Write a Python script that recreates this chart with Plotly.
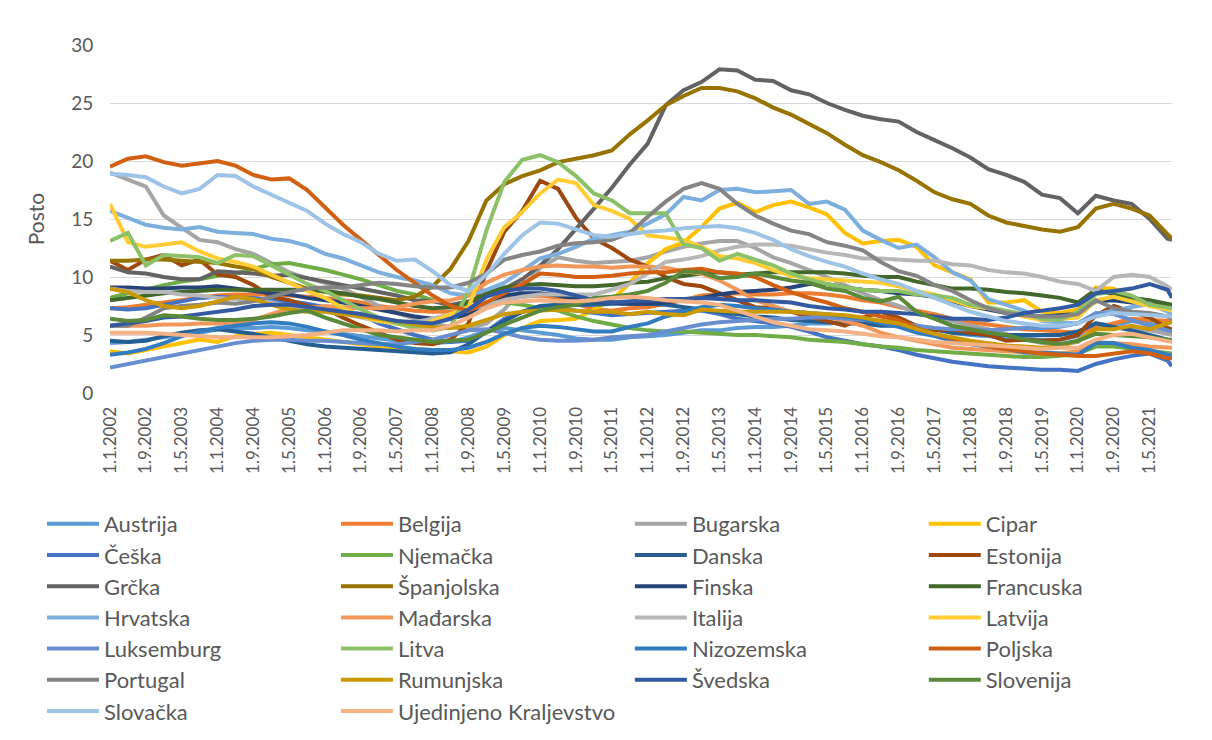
import plotly.graph_objects as go

# ---------------- data ----------------
dates = [
    "1.1.2002", "1.5.2002", "1.9.2002", "1.1.2003", "1.5.2003", "1.9.2003",
    "1.1.2004", "1.5.2004", "1.9.2004", "1.1.2005", "1.5.2005", "1.9.2005",
    "1.1.2006", "1.5.2006", "1.9.2006", "1.1.2007", "1.5.2007", "1.9.2007",
    "1.1.2008", "1.5.2008", "1.9.2008", "1.1.2009", "1.5.2009", "1.9.2009",
    "1.1.2010", "1.5.2010", "1.9.2010", "1.1.2011", "1.5.2011", "1.9.2011",
    "1.1.2012", "1.5.2012", "1.9.2012", "1.1.2013", "1.5.2013", "1.9.2013",
    "1.1.2014", "1.5.2014", "1.9.2014", "1.1.2015", "1.5.2015", "1.9.2015",
    "1.1.2016", "1.5.2016", "1.9.2016", "1.1.2017", "1.5.2017", "1.9.2017",
    "1.1.2018", "1.5.2018", "1.9.2018", "1.1.2019", "1.5.2019", "1.9.2019",
    "1.1.2020", "1.5.2020", "1.9.2020", "1.1.2021", "1.5.2021", "1.9.2021",
    "1.10.2021",
]

tick_labels = [
    "1.1.2002", "1.9.2002", "1.5.2003", "1.1.2004", "1.9.2004", "1.5.2005",
    "1.1.2006", "1.9.2006", "1.5.2007", "1.1.2008", "1.9.2008", "1.5.2009",
    "1.1.2010", "1.9.2010", "1.5.2011", "1.1.2012", "1.9.2012", "1.5.2013",
    "1.1.2014", "1.9.2014", "1.5.2015", "1.1.2016", "1.9.2016", "1.5.2017",
    "1.1.2018", "1.9.2018", "1.5.2019", "1.1.2020", "1.9.2020", "1.5.2021",
]

austrija = [4.3, 4.4, 4.6, 4.8, 5.0, 5.2, 5.5, 5.6, 5.6, 5.7,
            5.6, 5.4, 5.3, 5.1, 4.9, 4.7, 4.5, 4.4, 4.3, 4.4,
            4.8, 5.4, 5.6, 5.4, 5.2, 5.0, 4.7, 4.6, 4.6, 4.8,
            4.9, 5.0, 5.2, 5.4, 5.4, 5.6, 5.7, 5.7, 5.8, 6.0,
            6.0, 6.1, 6.1, 6.2, 6.0, 5.7, 5.5, 5.2, 5.0, 4.9,
            4.8, 4.7, 4.6, 4.6, 4.9, 6.0, 5.8, 6.2, 6.0, 5.6,
            5.3]
belgija = [7.3, 7.4, 7.6, 7.8, 8.0, 8.2, 8.4, 8.5, 8.5, 8.5,
           8.4, 8.3, 8.2, 8.0, 7.8, 7.5, 7.3, 7.1, 7.0, 7.0,
           7.3, 7.8, 8.1, 8.3, 8.4, 8.2, 7.7, 7.2, 7.1, 7.3,
           7.4, 7.7, 8.0, 8.4, 8.5, 8.6, 8.5, 8.5, 8.6, 8.6,
           8.5, 8.3, 8.0, 7.8, 7.4, 7.1, 6.8, 6.4, 6.1, 5.9,
           5.7, 5.5, 5.4, 5.3, 5.2, 5.6, 6.0, 6.4, 6.3, 6.2,
           6.2]
bugarska = [19.0, 18.4, 17.8, 15.3, 14.2, 13.2, 13.0, 12.4, 12.0, 11.2,
            10.4, 9.9, 9.5, 9.0, 8.3, 7.5, 6.9, 6.4, 6.0, 5.7,
            5.5, 6.0, 7.2, 9.0, 10.8, 11.7, 11.4, 11.2, 11.3, 11.4,
            11.7, 12.2, 12.6, 12.9, 13.1, 13.1, 12.5, 11.7, 11.2, 10.6,
            10.0, 9.3, 8.6, 8.0, 7.5, 6.9, 6.5, 6.2, 5.8, 5.5,
            5.1, 4.6, 4.3, 4.2, 4.4, 5.5, 5.7, 5.6, 5.4, 5.1,
            5.0]
cipar = [3.6, 3.4, 3.7, 4.0, 4.3, 4.6, 4.4, 4.9, 5.1, 5.2,
         5.0, 4.8, 4.6, 4.4, 4.2, 4.0, 3.9, 3.8, 3.7, 3.6,
         3.5, 4.0, 5.0, 5.6, 6.2, 6.3, 6.4, 7.2, 8.0, 9.5,
         11.2, 12.4, 13.0, 14.3, 15.9, 16.4, 15.6, 16.2, 16.5, 16.0,
         15.4, 13.8, 12.9, 13.1, 13.2, 12.6, 11.0, 10.4, 9.8, 7.8,
         7.8, 8.0, 7.0, 6.9, 7.2, 9.1, 9.0, 8.3, 7.6, 7.4,
         7.4]
ceska = [7.3, 7.2, 7.3, 7.6, 7.9, 8.2, 8.3, 8.2, 8.2, 8.0,
         7.9, 7.7, 7.4, 7.1, 6.8, 6.0, 5.5, 5.0, 4.6, 4.4,
         4.5, 5.3, 6.4, 7.0, 7.4, 7.3, 7.1, 6.9, 6.7, 6.8,
         6.9, 7.0, 7.1, 7.1, 6.8, 6.4, 6.2, 6.0, 5.7, 5.3,
         4.8, 4.5, 4.2, 4.0, 3.7, 3.3, 3.0, 2.7, 2.5, 2.3,
         2.2, 2.1, 2.0, 2.0, 1.9, 2.5, 2.9, 3.2, 3.4, 2.8,
         2.3]
njemacka = [8.2, 8.6, 8.9, 9.3, 9.6, 9.8, 10.1, 10.3, 10.7, 11.1,
            11.2, 10.9, 10.6, 10.2, 9.8, 9.3, 8.8, 8.5, 8.0, 7.6,
            7.4, 7.5, 7.8, 7.6, 7.3, 7.1, 6.6, 6.2, 5.9, 5.6,
            5.4, 5.3, 5.3, 5.2, 5.1, 5.0, 5.0, 4.9, 4.8, 4.6,
            4.5, 4.4, 4.2, 4.0, 3.9, 3.7, 3.6, 3.5, 3.4, 3.3,
            3.2, 3.1, 3.1, 3.2, 3.4, 4.0, 4.0, 3.8, 3.6, 3.4,
            3.4]
danska = [4.5, 4.4, 4.5, 4.9, 5.2, 5.4, 5.5, 5.3, 5.1, 4.8,
          4.5, 4.2, 4.0, 3.9, 3.8, 3.7, 3.6, 3.5, 3.4, 3.5,
          4.2, 5.3, 6.2, 7.0, 7.5, 7.6, 7.6, 7.6, 7.7, 7.7,
          7.7, 7.6, 7.4, 7.2, 7.0, 6.8, 6.6, 6.5, 6.3, 6.2,
          6.1, 6.0, 6.0, 5.8, 5.8, 5.7, 5.5, 5.2, 5.1, 5.0,
          5.0, 5.0, 5.0, 5.0, 5.3, 6.0, 5.7, 5.4, 5.0, 4.6,
          4.5]
estonija = [11.4, 10.6, 11.5, 11.9, 11.0, 11.5, 10.2, 10.0, 9.3, 8.3,
            8.0, 7.5, 7.3, 6.5, 5.8, 5.2, 4.6, 4.3, 4.2, 4.6,
            6.0, 10.5, 13.9, 15.7, 18.3, 17.6, 15.1, 13.3, 12.5, 11.5,
            10.9, 10.0, 9.4, 9.2, 8.6, 8.0, 7.4, 7.3, 7.0, 6.6,
            6.2, 5.8, 6.5, 7.0, 6.5, 5.8, 5.4, 5.5, 5.2, 5.0,
            4.5, 4.6, 4.5, 4.6, 5.0, 6.7, 7.5, 7.0, 6.5, 5.6,
            5.5]
grcka = [10.9, 10.4, 10.3, 10.0, 9.8, 9.8, 10.5, 10.4, 10.3, 10.1,
         10.2, 9.9, 9.6, 9.3, 9.0, 8.7, 8.4, 8.0, 7.9, 7.6,
         7.9, 8.5, 9.0, 9.8, 11.0, 12.4, 14.1, 15.9, 17.7, 19.7,
         21.5, 24.8, 26.1, 26.8, 27.9, 27.8, 27.0, 26.9, 26.1, 25.75,
         25.0, 24.4, 23.9, 23.6, 23.4, 22.5, 21.8, 21.1, 20.3, 19.3,
         18.8, 18.2, 17.1, 16.8, 15.5, 17.0, 16.6, 16.3, 15.0, 13.3,
         13.2]
spanjolska = [11.4, 11.4, 11.5, 11.5, 11.4, 11.3, 11.2, 10.9, 10.7, 10.0,
              9.5, 9.0, 8.7, 8.5, 8.4, 8.2, 8.0, 8.3, 9.2, 10.7,
              13.1, 16.6, 18.0, 18.7, 19.2, 19.9, 20.2, 20.5, 20.9, 22.3,
              23.5, 24.8, 25.6, 26.3, 26.3, 26.0, 25.4, 24.6, 24.0, 23.2,
              22.4, 21.4, 20.5, 19.9, 19.2, 18.3, 17.3, 16.7, 16.3, 15.3,
              14.7, 14.4, 14.1, 13.9, 14.3, 15.9, 16.3, 15.9, 15.3, 13.7,
              13.3]
finska = [9.1, 9.1, 9.0, 9.0, 9.1, 9.1, 9.2, 9.0, 8.8, 8.6,
          8.5, 8.2, 8.0, 7.8, 7.5, 7.2, 6.9, 6.6, 6.4, 6.4,
          6.8, 7.8, 8.4, 8.6, 8.6, 8.4, 8.1, 7.9, 7.8, 7.7,
          7.7, 7.8, 8.0, 8.2, 8.5, 8.7, 8.8, 8.9, 9.1, 9.4,
          9.4, 9.1, 8.9, 8.8, 8.6, 8.5, 8.3, 7.9, 7.5, 7.2,
          6.9, 6.7, 6.6, 6.7, 6.8, 7.9, 8.0, 7.8, 7.7, 7.6,
          7.5]
francuska = [8.0, 8.2, 8.4, 8.6, 8.7, 8.8, 8.9, 8.9, 8.9, 8.9,
             8.9, 8.9, 8.8, 8.6, 8.3, 8.1, 7.8, 7.5, 7.3, 7.4,
             7.8, 8.6, 9.1, 9.3, 9.4, 9.3, 9.2, 9.2, 9.3, 9.5,
             9.6, 9.9, 10.1, 10.3, 10.4, 10.2, 10.3, 10.4, 10.4, 10.4,
             10.4, 10.3, 10.1, 10.0, 10.0, 9.6, 9.3, 9.0, 9.0, 8.9,
             8.7, 8.6, 8.4, 8.2, 7.8, 8.9, 8.5, 8.2, 8.0, 7.7,
             7.6]
hrvatska = [15.7, 15.1, 14.5, 14.25, 14.1, 14.3, 13.9, 13.8, 13.7, 13.3,
            13.1, 12.7, 12.0, 11.6, 11.0, 10.4, 10.0, 9.7, 9.3, 8.6,
            8.4, 8.9, 9.5, 10.5, 11.6, 12.0, 12.6, 13.3, 13.6, 13.9,
            14.6, 15.4, 16.9, 16.6, 17.5, 17.6, 17.3, 17.4, 17.5, 16.3,
            16.5, 15.8, 14.0, 13.2, 12.5, 12.8, 11.7, 10.4, 9.7, 8.1,
            7.6, 7.1, 6.2, 6.1, 6.0, 6.8, 7.1, 7.4, 7.7, 7.0,
            6.8]
madarska = [5.8, 5.8, 5.8, 5.9, 5.9, 6.0, 6.0, 6.1, 6.3, 6.8,
            7.3, 7.3, 7.5, 7.4, 7.3, 7.3, 7.4, 7.7, 7.9, 8.0,
            8.4, 9.5, 10.2, 10.6, 10.9, 11.0, 10.9, 10.9, 10.8, 10.9,
            10.9, 10.8, 10.5, 10.3, 9.7, 8.9, 8.0, 7.5, 7.0, 6.9,
            6.6, 6.2, 5.8, 5.2, 4.8, 4.5, 4.2, 3.9, 3.8, 3.7,
            3.6, 3.5, 3.4, 3.4, 3.6, 4.4, 4.3, 4.2, 4.0, 3.9,
            3.9]
italija = [9.0, 8.8, 8.7, 8.7, 8.5, 8.4, 8.2, 8.1, 8.0, 7.8,
           7.5, 7.2, 7.0, 6.8, 6.5, 6.2, 6.0, 6.1, 6.4, 6.8,
           7.2, 7.6, 8.0, 8.3, 8.5, 8.5, 8.5, 8.5, 8.9, 9.4,
           10.3, 11.3, 11.5, 11.8, 12.3, 12.6, 12.8, 12.8, 12.7, 12.4,
           12.1, 11.9, 11.6, 11.6, 11.5, 11.4, 11.4, 11.1, 11.0, 10.6,
           10.4, 10.3, 10.0, 9.6, 9.4, 8.8, 10.0, 10.2, 10.0, 9.2,
           8.9]
latvija = [16.3, 13.0, 12.6, 12.8, 13.0, 12.2, 11.6, 11.3, 10.9, 10.2,
           9.5, 8.8, 8.2, 7.3, 6.6, 6.2, 6.0, 5.8, 6.2, 6.8,
           7.4, 11.5, 14.3, 15.6, 17.2, 18.4, 18.1, 16.2, 15.7, 15.0,
           13.6, 13.4, 13.2, 12.6, 11.8, 11.6, 11.2, 10.6, 10.1, 9.9,
           9.8, 9.7, 9.6, 9.5, 9.2, 8.8, 8.5, 8.0, 7.5, 7.3,
           7.0, 6.6, 6.3, 6.4, 6.5, 8.0, 8.3, 7.9, 7.5, 7.2,
           7.1]
luksemburg = [2.2, 2.5, 2.8, 3.1, 3.4, 3.7, 4.0, 4.3, 4.5, 4.6,
              4.6, 4.5, 4.5, 4.4, 4.3, 4.2, 4.2, 4.4, 4.6, 5.0,
              5.4, 5.5, 5.2, 4.8, 4.6, 4.5, 4.5, 4.6, 4.8, 4.9,
              5.0, 5.3, 5.6, 5.9, 6.1, 6.2, 6.3, 6.4, 6.4, 6.5,
              6.5, 6.4, 6.3, 6.2, 6.0, 5.8, 5.6, 5.5, 5.5, 5.4,
              5.5, 5.6, 5.6, 5.7, 6.0, 6.9, 6.8, 6.3, 5.8, 5.4,
              5.3]
litva = [13.1, 13.8, 11.0, 11.9, 11.8, 11.7, 11.2, 11.9, 11.8, 11.0,
         10.2, 9.4, 8.8, 8.0, 7.2, 6.5, 6.0, 5.6, 5.4, 5.7,
         8.8, 14.0, 18.2, 20.1, 20.5, 19.9, 18.7, 17.2, 16.6, 15.5,
         15.5, 15.5, 12.8, 12.5, 11.4, 12.0, 11.5, 11.0, 10.3, 9.8,
         9.4, 9.1, 8.9, 8.8, 8.8, 8.5, 8.4, 8.2, 7.6, 7.4,
         7.1, 6.8, 6.4, 6.3, 7.0, 8.5, 8.8, 8.4, 7.6, 7.3,
         7.3]
nizozemska = [3.3, 3.5, 3.8, 4.3, 4.9, 5.3, 5.6, 5.8, 6.0, 6.1,
              6.0, 5.7, 5.3, 5.0, 4.6, 4.3, 4.0, 3.8, 3.7, 3.7,
              3.9, 4.4, 5.1, 5.6, 5.8, 5.7, 5.5, 5.3, 5.3, 5.7,
              6.0, 6.6, 7.0, 7.4, 7.6, 7.5, 7.3, 7.2, 7.0, 6.9,
              6.8, 6.6, 6.4, 6.0, 5.7, 5.2, 4.9, 4.5, 4.2, 4.0,
              3.8, 3.5, 3.5, 3.4, 3.3, 4.3, 4.3, 3.9, 3.7, 3.3,
              3.2]
poljska = [19.5, 20.2, 20.4, 19.9, 19.6, 19.8, 20.0, 19.6, 18.8, 18.4,
           18.5, 17.5, 16.0, 14.5, 13.2, 11.9, 10.6, 9.5, 8.4, 7.5,
           7.1, 7.8, 8.6, 9.4, 10.3, 10.2, 10.0, 10.0, 10.1, 10.3,
           10.4, 10.4, 10.6, 10.7, 10.4, 10.3, 10.0, 9.3, 8.7, 8.2,
           7.8, 7.3, 7.0, 6.6, 6.3, 5.6, 5.1, 4.7, 4.4, 4.0,
           3.8, 3.6, 3.4, 3.3, 3.2, 3.2, 3.4, 3.6, 3.4, 3.0,
           3.0]
portugal = [5.8, 5.8, 6.5, 7.3, 7.5, 7.6, 7.8, 7.7, 7.9, 8.3,
            8.7, 9.0, 9.1, 9.1, 9.3, 9.5, 9.4, 9.2, 9.1, 9.1,
            9.5, 10.3, 11.5, 11.9, 12.2, 12.7, 12.9, 13.0, 13.2, 13.8,
            15.2, 16.5, 17.6, 18.1, 17.6, 16.3, 15.3, 14.6, 14.0, 13.7,
            13.0, 12.7, 12.3, 11.3, 10.5, 10.1, 9.3, 8.8, 8.0, 7.3,
            6.9, 6.7, 6.6, 6.6, 6.8, 8.0, 7.3, 7.0, 6.9, 6.6,
            6.4]
rumunjska = [9.0, 8.7, 8.0, 7.5, 7.3, 7.5, 7.9, 8.3, 8.1, 7.6,
             7.2, 7.0, 7.0, 6.8, 6.6, 6.4, 6.2, 5.9, 5.7, 5.6,
             5.8, 6.3, 6.8, 7.0, 7.1, 7.2, 7.1, 7.0, 7.0, 6.8,
             7.0, 6.8, 6.7, 7.2, 7.1, 7.0, 7.0, 7.0, 7.0, 6.9,
             6.8, 6.7, 6.5, 6.2, 6.0, 5.5, 5.1, 4.8, 4.5, 4.3,
             4.1, 4.0, 3.9, 4.0, 4.5, 5.5, 5.5, 5.8, 5.5, 6.0,
             6.1]
svedska = [5.8, 6.0, 6.2, 6.5, 6.6, 6.8, 7.0, 7.2, 7.5, 7.6,
           7.6, 7.4, 7.2, 7.0, 6.8, 6.5, 6.2, 6.1, 6.0, 6.4,
           7.2, 8.3, 8.8, 9.0, 9.0, 8.8, 8.4, 8.0, 7.8, 7.9,
           8.0, 8.1, 8.1, 8.2, 8.1, 8.0, 8.0, 7.9, 7.8, 7.5,
           7.3, 7.2, 7.0, 7.0, 6.9, 6.8, 6.6, 6.4, 6.4, 6.3,
           6.5, 6.9, 7.1, 7.3, 7.6, 8.6, 8.8, 9.0, 9.4, 8.9,
           8.2]
slovenija = [6.4, 6.2, 6.3, 6.7, 6.6, 6.4, 6.3, 6.3, 6.4, 6.6,
             6.9, 7.1, 6.5, 6.0, 5.5, 5.0, 4.8, 4.6, 4.4, 4.5,
             4.6, 5.2, 5.9, 6.5, 7.1, 7.4, 7.6, 8.2, 8.3, 8.5,
             8.8, 9.5, 10.5, 10.4, 9.9, 10.0, 10.3, 10.0, 9.7, 9.5,
             9.0, 8.8, 8.2, 7.9, 8.3, 7.0, 6.4, 5.8, 5.5, 5.2,
             5.0, 4.6, 4.4, 4.2, 4.5, 5.1, 5.0, 4.9, 4.8, 4.6,
             4.6]
slovacka = [18.9, 18.8, 18.6, 17.8, 17.2, 17.6, 18.8, 18.7, 17.8, 17.1,
            16.4, 15.7, 14.6, 13.7, 13.0, 12.0, 11.4, 11.5, 10.5, 9.3,
            8.8, 10.2, 12.0, 13.6, 14.7, 14.6, 14.1, 13.6, 13.5, 13.7,
            13.9, 14.0, 14.2, 14.3, 14.4, 14.2, 13.8, 13.2, 12.4, 11.8,
            11.3, 10.9, 10.3, 9.8, 9.4, 8.8, 8.2, 7.6, 7.0, 6.6,
            6.2, 6.0, 5.8, 5.8, 6.0, 6.6, 6.9, 6.8, 6.7, 6.6,
            6.6]
uk = [5.2, 5.2, 5.2, 5.1, 5.0, 4.9, 4.8, 4.8, 4.8, 4.8,
      4.9, 5.0, 5.2, 5.4, 5.4, 5.4, 5.3, 5.4, 5.4, 5.8,
      6.5, 7.3, 7.8, 7.9, 8.0, 7.9, 7.9, 8.0, 8.2, 8.3,
      8.2, 8.0, 7.9, 7.8, 7.6, 7.1, 6.6, 6.1, 5.8, 5.5,
      5.4, 5.3, 5.1, 4.9, 4.8, 4.6, 4.4, 4.3, 4.2, 4.1,
      4.0, 3.9, 3.8, 3.9, 3.9, 4.6, 5.0, 5.1, 4.8, 4.5,
      4.4]

names = ["Austrija", "Belgija", "Bugarska", "Cipar",
         "Češka", "Njemačka", "Danska", "Estonija",
         "Grčka", "Španjolska", "Finska", "Francuska",
         "Hrvatska", "Mađarska", "Italija", "Latvija",
         "Luksemburg", "Litva", "Nizozemska", "Poljska",
         "Portugal", "Rumunjska", "Švedska", "Slovenija",
         "Slovačka", "Ujedinjeno Kraljevstvo"]

values = [austrija, belgija, bugarska, cipar,
          ceska, njemacka, danska, estonija,
          grcka, spanjolska, finska, francuska,
          hrvatska, madarska, italija, latvija,
          luksemburg, litva, nizozemska, poljska,
          portugal, rumunjska, svedska, slovenija,
          slovacka, uk]

colors = ["#5B9BD5", "#ED7D31", "#A5A5A5", "#FFC000",
          "#4472C4", "#70AD47", "#255E91", "#9E480E",
          "#636363", "#997300", "#264478", "#43682B",
          "#7CAFDD", "#F1975A", "#B7B7B7", "#FFCD33",
          "#698ED0", "#8CC168", "#327DC2", "#D26012",
          "#848484", "#CC9A00", "#335AA1", "#5A8A39",
          "#9DC3E6", "#F4B183"]

# ---------------- helpers ----------------
def month_index(s):
    d, m, y = s.split(".")
    return (int(y) - 2002) * 12 + int(m) - 1

x = [month_index(d) for d in dates]
tickvals = [month_index(t) for t in tick_labels]

FONT = "Lato, Calibri, Carlito, 'Liberation Sans', sans-serif"
TXT = "#595959"

W, H = 1212, 740
ML, MR, MT, MB = 110, 40, 45, 347
plot_h = H - MT - MB

fig = go.Figure()
for i, (name, vals, col) in enumerate(zip(names, values, colors)):
    row = i // 4
    lg = "legend" if row == 0 else "legend%d" % (row + 1)
    fig.add_trace(go.Scatter(
        x=x, y=vals, mode="lines", name=name,
        line=dict(color=col, width=4),
        legend=lg,
    ))

layout_legends = {}
row_centers_px = [524, 555.2, 586.4, 617.6, 648.8, 680, 711.2]
for r, cy in enumerate(row_centers_px):
    key = "legend" if r == 0 else "legend%d" % (r + 1)
    layout_legends[key] = dict(
        orientation="h",
        x=(42 - ML) / (W - ML - MR),
        xanchor="left",
        y=(H - MB - cy) / plot_h,
        yanchor="middle",
        font=dict(family=FONT, size=22, color=TXT),
        itemwidth=52,
        entrywidthmode="fraction",
        entrywidth=0.2508,
        bgcolor="rgba(0,0,0,0)",
        borderwidth=0,
        tracegroupgap=0,
    )

fig.update_layout(
    width=W, height=H,
    margin=dict(l=ML, r=MR, t=MT, b=MB, autoexpand=False),
    paper_bgcolor="white",
    plot_bgcolor="white",
    font=dict(family=FONT, size=18, color=TXT),
    showlegend=True,
    xaxis=dict(
        range=[0, month_index("1.10.2021")],
        tickmode="array",
        tickvals=tickvals,
        ticktext=tick_labels,
        tickangle=-90,
        tickfont=dict(family=FONT, size=17, color=TXT),
        showgrid=False,
        zeroline=False,
        showline=False,
        ticks="outside",
        ticklen=6,
        tickcolor="rgba(0,0,0,0)",
        fixedrange=True,
    ),
    yaxis=dict(
        range=[0, 30],
        tickmode="linear",
        tick0=0,
        dtick=5,
        showgrid=True,
        gridcolor="#D9D9D9",
        gridwidth=1.3,
        zeroline=False,
        showline=False,
        ticks="outside",
        ticklen=12,
        tickcolor="rgba(0,0,0,0)",
        tickfont=dict(family=FONT, size=19, color=TXT),
        title=dict(text="Posto", font=dict(family=FONT, size=21, color=TXT), standoff=20),
        fixedrange=True,
    ),
    **layout_legends,
)

fig.write_html(
    "out.html",
    config={"displayModeBar": False},
    post_script="document.body.style.margin='0';document.body.style.padding='0';document.body.style.overflow='hidden';",
)
